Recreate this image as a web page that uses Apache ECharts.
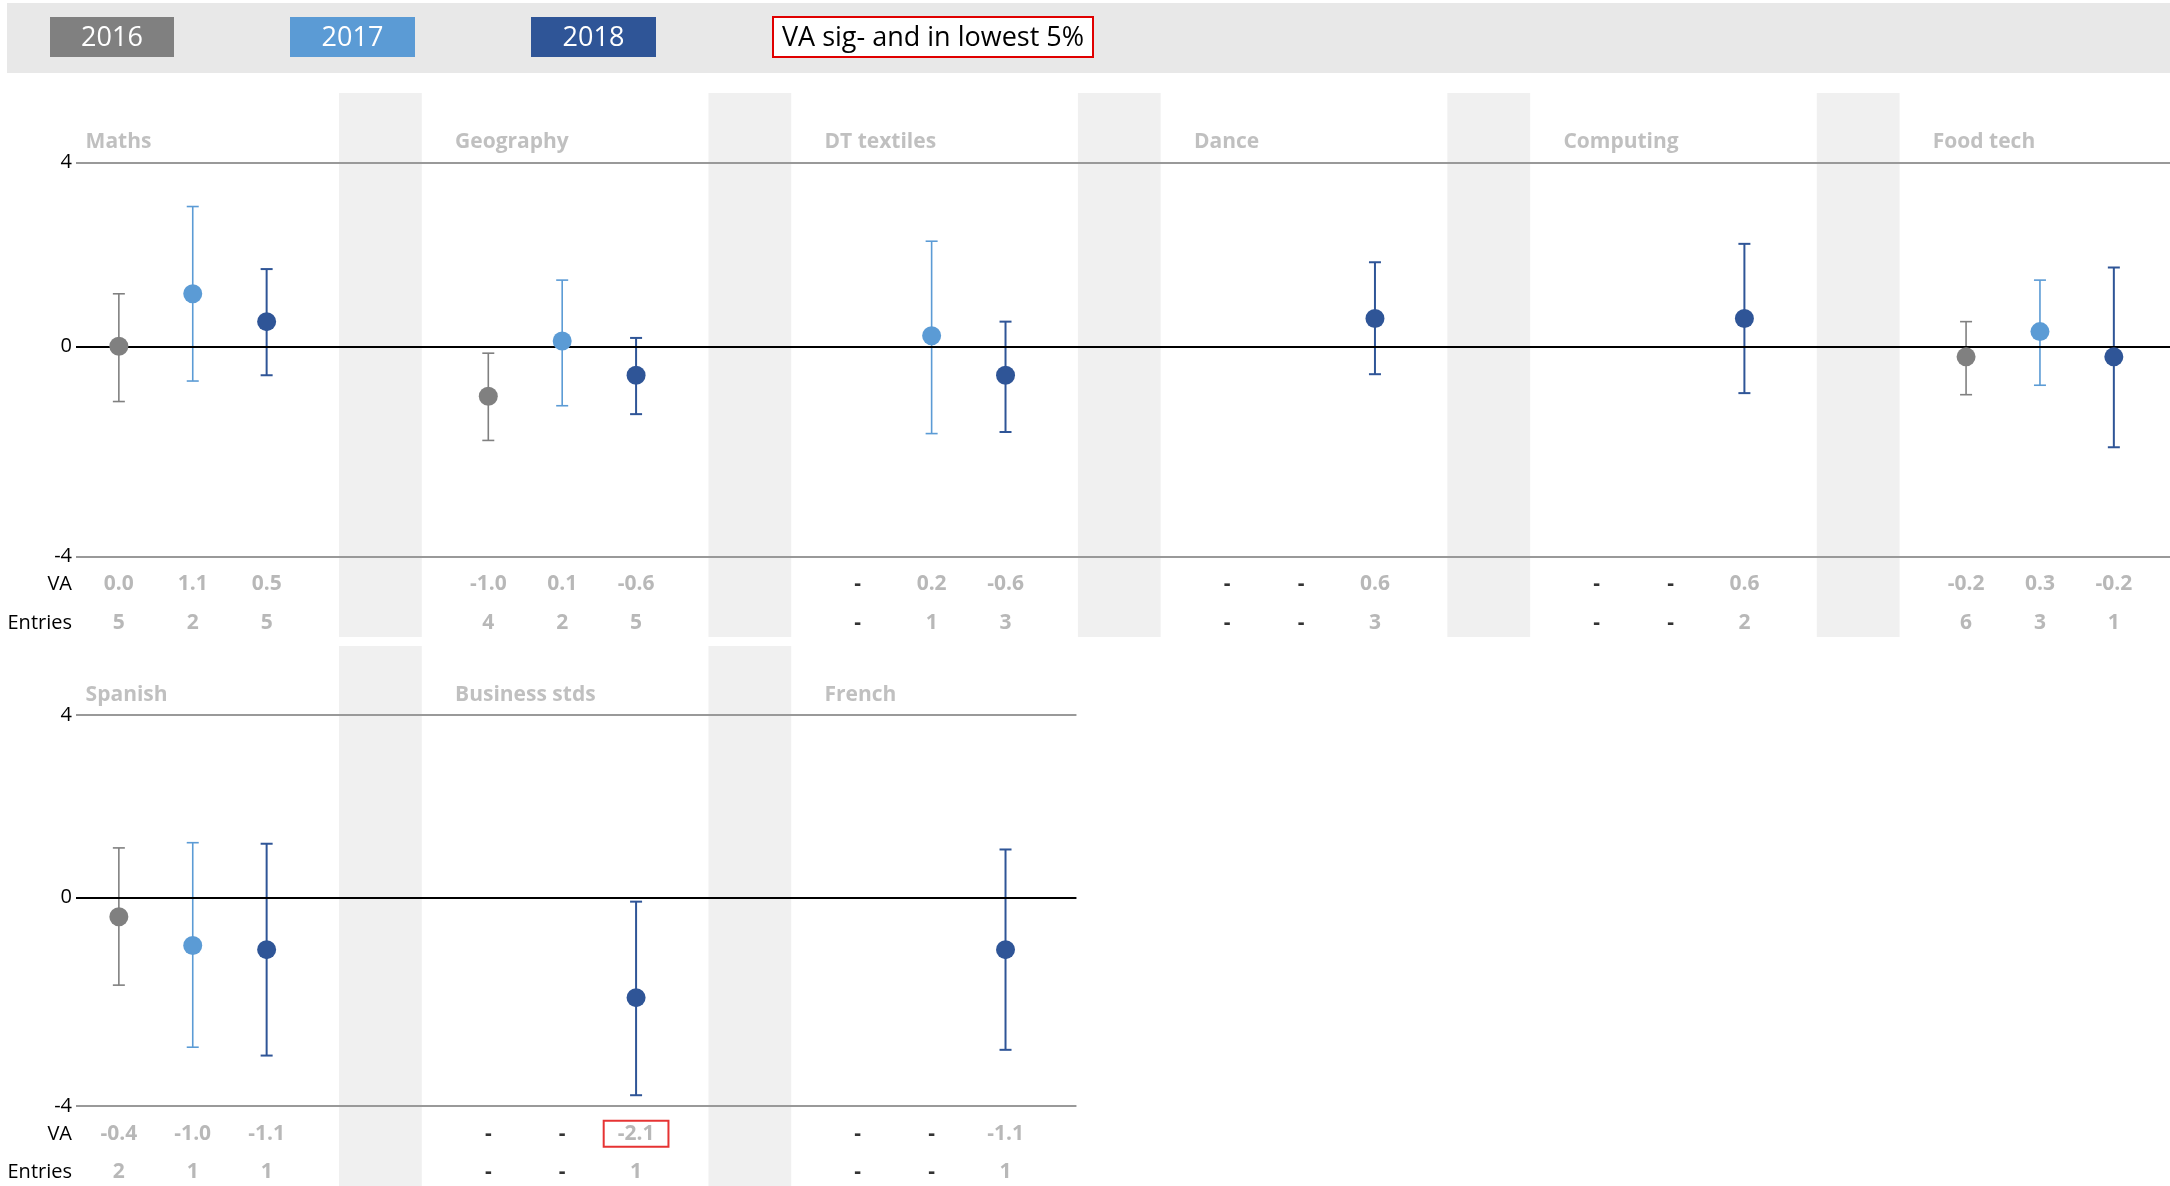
<!DOCTYPE html>
<html>
<head>
<meta charset="utf-8">
<script src="https://cdn.jsdelivr.net/npm/echarts@6/dist/echarts.min.js"></script>
<style>html,body{margin:0;padding:0;background:#fff}#chart{width:2170px;height:1186px}</style>
</head>
<body>
<div id="chart"></div>
<script>
var subjects = ['Maths', 'Geography', 'DT textiles', 'Dance', 'Computing', 'Food tech', 'Spanish', 'Business stds', 'French'];
var years = ['2016', '2017', '2018'];
var colors = ['#808080', '#5b9bd5', '#2f5597'];

// VA shown in table, dot position, interval low / high, entries
var va2016 = [0.0, -1.0, null, null, null, -0.2, -0.4, null, null];
var dot2016 = [0.0, -0.95, null, null, null, -0.2, -0.37, null, null];
var lo2016 = [-1.05, -1.79, null, null, null, -0.92, -1.68, null, null];
var hi2016 = [1.0, -0.13, null, null, null, 0.47, 0.95, null, null];
var ent2016 = [5, 4, null, null, null, 6, 2, null, null];

var va2017 = [1.1, 0.1, 0.2, null, null, 0.3, -1.0, null, null];
var dot2017 = [1.0, 0.1, 0.2, null, null, 0.28, -0.92, null, null];
var lo2017 = [-0.66, -1.13, -1.66, null, null, -0.74, -2.87, null, null];
var hi2017 = [2.66, 1.26, 2.0, null, null, 1.26, 1.05, null, null];
var ent2017 = [2, 2, 1, null, null, 3, 1, null, null];

var va2018 = [0.5, -0.6, -0.6, 0.6, 0.6, -0.2, -1.1, -2.1, -1.1];
var dot2018 = [0.47, -0.55, -0.55, 0.53, 0.53, -0.2, -1.0, -1.92, -1.0];
var lo2018 = [-0.55, -1.29, -1.63, -0.53, -0.89, -1.92, -3.03, -3.79, -2.92];
var hi2018 = [1.47, 0.16, 0.47, 1.6, 1.95, 1.5, 1.03, -0.08, 0.92];
var ent2018 = [5, 5, 3, 3, 2, 1, 1, 1, 1];
var low2018 = [false, false, false, false, false, false, false, true, false];

var yTicks = [3.5, 0, -4];
var vaRow = -4.53, entRow = -5.26;

var allVa = [va2016, va2017, va2018];
var allDot = [dot2016, dot2017, dot2018];
var allLo = [lo2016, lo2017, lo2018];
var allHi = [hi2016, hi2017, hi2018];
var allEnt = [ent2016, ent2017, ent2018];
var allLow = [[], [], low2018];

var XMIN = -0.58, XMAX = 27.76;
var rowEnd = [XMAX, 12.96];
var FONT = '"Open Sans", "Noto Sans", sans-serif';

var chart = echarts.init(document.getElementById('chart'));

var grids = [], xAxes = [], yAxes = [], series = [];
for (let r = 0; r < 2; r++) {
  grids.push({left: 76, right: 0, top: r === 0 ? 93 : 646, height: 544});
  xAxes.push({type: 'value', gridIndex: r, min: XMIN, max: XMAX, show: false});
  yAxes.push({
    type: 'value', gridIndex: r, min: -5.53, max: 4.82,
    splitLine: {show: false}, axisLine: {show: false}, axisTick: {show: false},
    axisLabel: {
      customValues: [3.5, 0, -4, vaRow, entRow],
      margin: 4, fontFamily: FONT, fontSize: 20, color: '#000',
      formatter: function (v) {
        if (v === 3.5) return '4';
        if (v === vaRow) return 'VA';
        if (v === entRow) return 'Entries';
        return String(v);
      }
    }
  });
  var bands = [];
  var nb = r === 0 ? 5 : 2;
  for (let k = 0; k < nb; k++) bands.push([{xAxis: k * 5 + 2.98}, {xAxis: k * 5 + 4.1}]);
  series.push({
    type: 'scatter', xAxisIndex: r, yAxisIndex: r, data: [], silent: true,
    markArea: {silent: true, itemStyle: {color: '#f0f0f0'}, data: bands},
    markLine: {
      silent: true, symbol: 'none', label: {show: false},
      data: yTicks.map(function (t) {
        return [
          {coord: [XMIN, t], lineStyle: {color: t === 0 ? '#000' : '#999', width: 2, type: 'solid'}},
          {coord: [rowEnd[r], t]}
        ];
      })
    }
  });
}

function pos(i, j) {
  return {row: Math.floor(i / 6), x: (i % 6) * 5 + j};
}

// panel titles
for (let r = 0; r < 2; r++) {
  var tdata = [];
  subjects.forEach(function (s, i) {
    if (Math.floor(i / 6) === r) tdata.push({value: [(i % 6) * 5 - 0.45, 3.89], name: s});
  });
  series.push({
    type: 'scatter', xAxisIndex: r, yAxisIndex: r, symbolSize: 0, silent: true, data: tdata,
    label: {show: true, position: 'right', distance: 0, formatter: '{b}', color: '#b0b0b0',
      fontFamily: FONT, fontWeight: 'bold', fontSize: 21}
  });
}

years.forEach(function (y, j) {
  for (let r = 0; r < 2; r++) {
    var bars = [], dots = [], texts = [];
    subjects.forEach(function (s, i) {
      var p = pos(i, j);
      if (p.row !== r) return;
      var v = allVa[j][i];
      if (v !== null) {
        bars.push([p.x, allLo[j][i], allHi[j][i]]);
        dots.push([p.x, allDot[j][i]]);
      }
      var lbl = {color: v === null ? '#000' : '#a6a6a6'};
      if (allLow[j][i]) {
        lbl.borderColor = '#e00000'; lbl.borderWidth = 2; lbl.padding = [4, 14, 1, 14];
      }
      texts.push({value: [p.x, vaRow], name: v === null ? '-' : v.toFixed(1), label: lbl});
      texts.push({value: [p.x, entRow], name: v === null ? '-' : String(allEnt[j][i]),
        label: {color: v === null ? '#000' : '#a6a6a6'}});
    });
    series.push({
      type: 'custom', xAxisIndex: r, yAxisIndex: r, silent: true, data: bars,
      renderItem: function (params, api) {
        var x = api.value(0);
        var a = api.coord([x, api.value(1)]);
        var b = api.coord([x, api.value(2)]);
        var w = 6;
        var st = {stroke: colors[j], lineWidth: j === 2 ? 2 : 1.6};
        return {type: 'group', children: [
          {type: 'line', shape: {x1: a[0], y1: a[1], x2: b[0], y2: b[1]}, style: st},
          {type: 'line', shape: {x1: a[0] - w, y1: a[1], x2: a[0] + w, y2: a[1]}, style: st},
          {type: 'line', shape: {x1: b[0] - w, y1: b[1], x2: b[0] + w, y2: b[1]}, style: st}
        ]};
      }
    });
    series.push({
      type: 'scatter', xAxisIndex: r, yAxisIndex: r, data: dots, symbolSize: 19, silent: true,
      itemStyle: {color: colors[j], opacity: 1}, z: 5
    });
    series.push({
      type: 'scatter', xAxisIndex: r, yAxisIndex: r, data: texts, symbolSize: 0, silent: true,
      label: {show: true, position: 'inside', formatter: '{b}', fontFamily: FONT, fontSize: 21, fontWeight: 'bold'}
    });
  }
});

var legendBoxes = [
  {x: 50, w: 124, text: '2016', fill: colors[0]},
  {x: 290, w: 125, text: '2017', fill: colors[1]},
  {x: 531, w: 125, text: '2018', fill: colors[2]}
];
var graphic = [{type: 'rect', shape: {x: 7, y: 3, width: 2163, height: 70}, style: {fill: '#e8e8e8'}, z: -1}];
legendBoxes.forEach(function (b) {
  graphic.push({type: 'rect', shape: {x: b.x, y: 17, width: b.w, height: 40}, style: {fill: b.fill}});
  graphic.push({type: 'text', x: b.x + b.w / 2, y: 38,
    style: {text: b.text, fill: '#fff', font: '27px ' + FONT, align: 'center', verticalAlign: 'middle'}});
});
graphic.push({type: 'rect', shape: {x: 773, y: 17, width: 320, height: 40}, style: {fill: '#fff', stroke: '#e00000', lineWidth: 2}});
graphic.push({type: 'text', x: 933, y: 38,
  style: {text: 'VA sig- and in lowest 5%', fill: '#000', font: '27px ' + FONT, align: 'center', verticalAlign: 'middle'}});

chart.setOption({
  animation: false,
  backgroundColor: '#fff',
  grid: grids, xAxis: xAxes, yAxis: yAxes,
  graphic: graphic,
  series: series
});
</script>
</body>
</html>
